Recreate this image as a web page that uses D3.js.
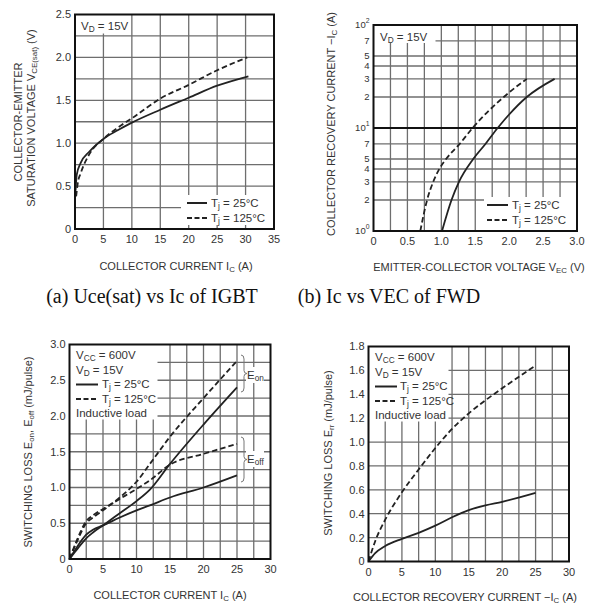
<!DOCTYPE html>
<html>
<head>
<meta charset="utf-8">
<script src="https://cdn.jsdelivr.net/npm/d3@7"></script>
<style>
  body { margin: 0; background: #fff; }
  text { font-family: "Liberation Sans", Arial, sans-serif; fill: #333; }
</style>
</head>
<body>
<div id="chart"></div>
<script>
const width = 597
const height = 608

// (a) VCE(sat) vs Ic
const aIc25 = [0.1, 0.3, 1, 2.5, 5, 7.5, 10, 15, 20, 25, 30.5]
const aVce25 = [0.45, 0.63, 0.77, 0.9, 1.05, 1.15, 1.24, 1.39, 1.53, 1.67, 1.78]
const aIc125 = [0.2, 0.5, 1, 2.5, 5, 7.5, 10, 15, 20, 25, 30.3]
const aVce125 = [0.38, 0.54, 0.65, 0.87, 1.05, 1.18, 1.29, 1.52, 1.68, 1.85, 2.0]
const aXTicks = [0, 5, 10, 15, 20, 25, 30, 35]
const aYTicks = [0, 0.5, 1.0, 1.5, 2.0, 2.5]

// (b) Ic vs VEC (log)
const bIc25 = [1, 2, 3, 5, 7, 10, 20, 30]
const bVec25 = [1.01, 1.15, 1.26, 1.47, 1.65, 1.83, 2.26, 2.67]
const bIc125 = [1, 2, 3, 4, 5, 7, 10, 20, 30]
const bVec125 = [0.69, 0.79, 0.88, 0.97, 1.07, 1.27, 1.46, 1.92, 2.26]
const bXTicks = [0, 0.5, 1.0, 1.5, 2.0, 2.5, 3.0]
const bYTicks = [1, 2, 3, 4, 5, 7, 10, 20, 30, 40, 50, 70, 100]

// (c) Eon / Eoff vs Ic
const cIc = [0, 1, 2.5, 3.5, 5, 7.5, 10, 12, 15, 20, 25]
const cEon25 = [0, 0.12, 0.29, 0.37, 0.47, 0.64, 0.81, 0.97, 1.33, 1.88, 2.4]
const cEoff25 = [0, 0.15, 0.34, 0.41, 0.47, 0.58, 0.68, 0.75, 0.86, 1.0, 1.17]
const cEon125 = [0, 0.22, 0.5, 0.58, 0.68, 0.86, 1.08, 1.33, 1.71, 2.25, 2.77]
const cEoff125 = [0, 0.24, 0.53, 0.61, 0.7, 0.84, 0.98, 1.1, 1.32, 1.47, 1.61]
const cXTicks = [0, 5, 10, 15, 20, 25, 30]
const cYTicks = [0, 0.5, 1.0, 1.5, 2.0, 2.5, 3.0]

// (d) Err vs -Ic
const dIc = [0, 1, 2.5, 5, 7.5, 10, 12.5, 15, 17.5, 20, 25]
const dErr25 = [0, 0.07, 0.13, 0.19, 0.24, 0.3, 0.37, 0.43, 0.47, 0.5, 0.575]
const dErr125 = [0, 0.17, 0.35, 0.58, 0.77, 0.95, 1.11, 1.24, 1.35, 1.45, 1.64]
const dXTicks = [0, 5, 10, 15, 20, 25, 30]
const dYTicks = [0, 0.2, 0.4, 0.6, 0.8, 1.0, 1.2, 1.4, 1.6, 1.8]

const svg = d3.select('#chart').append('svg')
    .attr('width', width)
    .attr('height', height)

const gridColor = '#6e6e6e'

// writes text pieces, ['V',''], ['D','sub'], ['2','sup']
function rich(sel, parts, size) {
    let shift = 0
    parts.forEach(p => {
        let t = sel.append('tspan').text(p[0])
        let want = p[1] === 'sub' ? 2 : (p[1] === 'sup' ? -5 : 0)
        if (want !== shift) t.attr('dy', want - shift)
        shift = want
        if (p[1]) t.attr('font-size', size * 0.72)
    })
    return sel
}

function makePanel(p) {
    let g = svg.append('g')
    let x = d3.scaleLinear().domain(p.xDomain).range([p.left, p.right])
    let y = (p.log ? d3.scaleLog() : d3.scaleLinear()).domain(p.yDomain).range([p.bottom, p.top])

    // grid
    g.append('g').selectAll('line').data(p.xGrid).join('line')
        .attr('x1', d => x(d)).attr('x2', d => x(d))
        .attr('y1', p.top).attr('y2', p.bottom)
        .attr('stroke', gridColor).attr('stroke-width', 1.3)
    g.append('g').selectAll('line').data(p.yGrid).join('line')
        .attr('y1', d => y(d)).attr('y2', d => y(d))
        .attr('x1', p.left).attr('x2', p.right)
        .attr('stroke', d => p.log && d === 10 ? '#111' : gridColor)
        .attr('stroke-width', d => p.log && d === 10 ? 2 : 1.3)

    // white boxes over grid
    p.boxes.forEach(b => {
        g.append('rect').attr('x', b[0]).attr('y', b[1]).attr('width', b[2]).attr('height', b[3])
            .attr('fill', '#fff')
    })

    // curves
    let line = d3.line().x(d => x(d[0])).y(d => y(d[1])).curve(d3.curveMonotoneX)
    p.series.forEach(s => {
        g.append('path')
            .attr('d', line(d3.zip(s.x, s.y)))
            .attr('fill', 'none')
            .attr('stroke', '#222')
            .attr('stroke-width', 1.8)
            .attr('stroke-dasharray', s.dash ? '5.5,3' : null)
    })

    // frame
    g.append('rect')
        .attr('x', p.left).attr('y', p.top)
        .attr('width', p.right - p.left).attr('height', p.bottom - p.top)
        .attr('fill', 'none').attr('stroke', '#111').attr('stroke-width', 2)

    // tick labels
    g.append('g').selectAll('text').data(p.xTicks).join('text')
        .attr('x', d => x(d)).attr('y', p.bottom + 14)
        .attr('text-anchor', 'middle').attr('font-size', 11)
        .text(p.xFmt)
    let ySize = p.yTickSize || 11
    let yl = g.append('g').selectAll('text').data(p.yTicks).join('text')
        .attr('x', p.left - 4).attr('y', d => y(d) + ySize * 0.36)
        .attr('text-anchor', 'end').attr('font-size', ySize)
    yl.each(function (d) { rich(d3.select(this), p.yFmt(d), ySize) })

    // axis titles
    let xt = g.append('text').attr('x', p.xTitle.x).attr('y', p.xTitle.y)
        .attr('text-anchor', 'middle').attr('font-size', 11)
    rich(xt, p.xTitle.parts, 11)
    p.yTitle.forEach(t => {
        let yt = g.append('text')
            .attr('transform', `translate(${t.x},${t.y}) rotate(-90)`)
            .attr('text-anchor', 'middle').attr('font-size', 11)
        rich(yt, t.parts, 11)
    })

    // notes / legend text
    p.notes.forEach(n => {
        let nt = g.append('text').attr('x', n.x).attr('y', n.y).attr('font-size', 11.5)
        rich(nt, n.parts, 11.5)
    })
    p.keys.forEach(k => {
        g.append('line').attr('x1', k.x1).attr('x2', k.x2).attr('y1', k.y).attr('y2', k.y)
            .attr('stroke', '#222').attr('stroke-width', 2)
            .attr('stroke-dasharray', k.dash ? '5,2.5' : null)
    })
    return { x, y, g }
}

const fmt1 = d => [[d === 0 ? '0' : d3.format('.1f')(d), '']]

const tj25 = [['T', ''], ['j', 'sub'], [' = 25°C', '']]
const tj125 = [['T', ''], ['j', 'sub'], [' = 125°C', '']]

// (a)
makePanel({
    left: 75, right: 274, top: 14.5, bottom: 229,
    xDomain: [0, 35], yDomain: [0, 2.5],
    xGrid: [5, 10, 15, 20, 25, 30], yGrid: d3.range(0.25, 2.5, 0.25),
    xTicks: aXTicks, yTicks: aYTicks, xFmt: d => d, yFmt: fmt1,
    boxes: [[75, 14.5, 55, 19], [181, 195, 93, 30]],
    series: [{ x: aIc25, y: aVce25 }, { x: aIc125, y: aVce125, dash: true }],
    xTitle: { x: 176, y: 270, parts: [['COLLECTOR CURRENT  I', ''], ['C', 'sub'], [' (A)', '']] },
    yTitle: [
        { x: 22, y: 122, parts: [['COLLECTOR-EMITTER', '']] },
        { x: 35, y: 118, parts: [['SATURATION VOLTAGE  V', ''], ['CE(sat)', 'sub'], [' (V)', '']] }
    ],
    notes: [
        { x: 81, y: 30, parts: [['V', ''], ['D', 'sub'], [' = 15V', '']] },
        { x: 211, y: 207, parts: tj25 },
        { x: 211, y: 222, parts: tj125 }
    ],
    keys: [{ x1: 187, x2: 207, y: 203 }, { x1: 187, x2: 207, y: 218, dash: true }]
})

// (b)
const bLabel = d => d === 1 ? [['10', ''], ['0', 'sup']] : d === 10 ? [['10', ''], ['1', 'sup']] :
    d === 100 ? [['10', ''], ['2', 'sup']] : [[String(d < 10 ? d : d / 10), '']]
makePanel({
    left: 373.5, right: 577, top: 25, bottom: 231,
    xDomain: [0, 3], yDomain: [1, 100], log: true, yTickSize: 9.5,
    xGrid: d3.range(0.25, 3, 0.25), yGrid: [2, 3, 4, 5, 7, 10, 20, 30, 40, 50, 70],
    xTicks: bXTicks, yTicks: bYTicks, xFmt: d => d === 0 ? '0' : d3.format('.1f')(d), yFmt: bLabel,
    boxes: [[373.5, 25, 62, 18], [484, 197, 93, 34]],
    series: [{ x: bVec25, y: bIc25 }, { x: bVec125, y: bIc125, dash: true }],
    xTitle: { x: 479, y: 271, parts: [['EMITTER-COLLECTOR VOLTAGE  V', ''], ['EC', 'sub'], [' (V)', '']] },
    yTitle: [
        { x: 335, y: 124, parts: [['COLLECTOR RECOVERY CURRENT  −I', ''], ['C', 'sub'], [' (A)', '']] }
    ],
    notes: [
        { x: 380, y: 41, parts: [['V', ''], ['D', 'sub'], [' = 15V', '']] },
        { x: 512, y: 209, parts: tj25 },
        { x: 512, y: 224, parts: tj125 }
    ],
    keys: [{ x1: 487, x2: 508, y: 205 }, { x1: 487, x2: 508, y: 220, dash: true }]
})

// (c)
const legendNotes = (x, y0, x2) => [
    { x: x, y: y0, parts: [['V', ''], ['CC', 'sub'], [' = 600V', '']] },
    { x: x, y: y0 + 14.5, parts: [['V', ''], ['D', 'sub'], [' = 15V', '']] },
    { x: x2, y: y0 + 29, parts: tj25 },
    { x: x2, y: y0 + 43.5, parts: tj125 },
    { x: x, y: y0 + 58, parts: [['Inductive load', '']] }
]
const panelC = makePanel({
    left: 69.5, right: 270.5, top: 344.5, bottom: 559,
    xDomain: [0, 30], yDomain: [0, 3],
    xGrid: d3.range(2.5, 30, 2.5), yGrid: d3.range(0.25, 3, 0.25),
    xTicks: cXTicks, yTicks: cYTicks, xFmt: d => d, yFmt: fmt1,
    boxes: [[69.5, 344.5, 88, 75], [246, 367, 18, 16], [246, 451, 18, 16]],
    series: [
        { x: cIc, y: cEon25 }, { x: cIc, y: cEoff25 },
        { x: cIc, y: cEon125, dash: true }, { x: cIc, y: cEoff125, dash: true }
    ],
    xTitle: { x: 170, y: 599, parts: [['COLLECTOR CURRENT  I', ''], ['C', 'sub'], [' (A)', '']] },
    yTitle: [
        { x: 32, y: 452, parts: [['SWITCHING LOSS  E', ''], ['on', 'sub'], [', E', ''], ['off', 'sub'], [' (mJ/pulse)', '']] }
    ],
    notes: legendNotes(76, 359, 102).concat([
        { x: 247, y: 379, parts: [['E', ''], ['on', 'sub']] },
        { x: 247, y: 463, parts: [['E', ''], ['off', 'sub']] }
    ]),
    keys: [{ x1: 76, x2: 98, y: 384.5 }, { x1: 76, x2: 98, y: 399, dash: true }]
})

// curly brackets next to the end of the curves
function brace(g, xb, y1, y2) {
    let m = (y1 + y2) / 2
    g.append('path')
        .attr('d', `M${xb},${y1} Q${xb + 3},${y1} ${xb + 3},${y1 + 4} L${xb + 3},${m - 3} Q${xb + 3},${m} ${xb + 6},${m}` +
            ` Q${xb + 3},${m} ${xb + 3},${m + 3} L${xb + 3},${y2 - 4} Q${xb + 3},${y2} ${xb},${y2}`)
        .attr('fill', 'none').attr('stroke', '#777').attr('stroke-width', 1)
}
brace(panelC.g, 241, 355, 392)
brace(panelC.g, 241, 437, 482)

// (d)
makePanel({
    left: 368.5, right: 569, top: 346.5, bottom: 561.5,
    xDomain: [0, 30], yDomain: [0, 1.8],
    xGrid: d3.range(2.5, 30, 2.5), yGrid: d3.range(0.2, 1.8, 0.2),
    xTicks: dXTicks, yTicks: dYTicks, xFmt: d => d, yFmt: fmt1,
    boxes: [[368.5, 346.5, 80, 75]],
    series: [{ x: dIc, y: dErr25 }, { x: dIc, y: dErr125, dash: true }],
    xTitle: { x: 465, y: 601, parts: [['COLLECTOR RECOVERY CURRENT  −I', ''], ['C', 'sub'], [' (A)', '']] },
    yTitle: [
        { x: 332, y: 453, parts: [['SWITCHING LOSS  E', ''], ['rr', 'sub'], [' (mJ/pulse)', '']] }
    ],
    notes: legendNotes(375, 361, 400),
    keys: [{ x1: 375, x2: 397, y: 386.5 }, { x1: 375, x2: 397, y: 401, dash: true }]
})

// captions
const serif = '"Liberation Serif", "Times New Roman", serif'
svg.append('text').attr('x', 152).attr('y', 303).attr('text-anchor', 'middle')
    .style('font-family', serif).style('fill', '#111')
    .attr('font-size', 20).text('(a) Uce(sat) vs Ic of IGBT')
svg.append('text').attr('x', 389).attr('y', 303).attr('text-anchor', 'middle')
    .style('font-family', serif).style('fill', '#111')
    .attr('font-size', 20).text('(b) Ic vs VEC of FWD')
</script>
</body>
</html>
